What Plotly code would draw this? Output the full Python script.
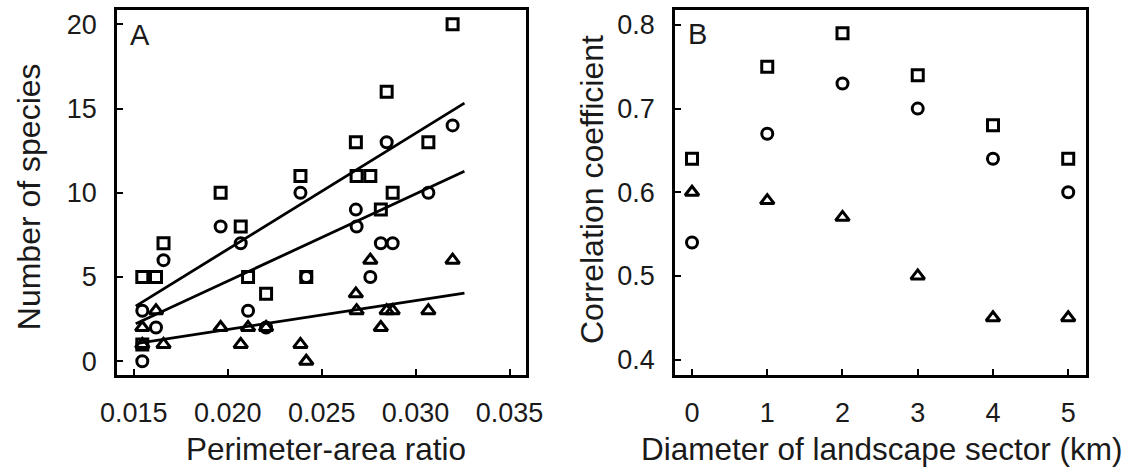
import numpy as np
import plotly.graph_objects as go

# ---------------- Panel A data ----------------
pa_ratio_sq = [0.01545, 0.01545, 0.01618, 0.01658, 0.01962, 0.02069, 0.02108, 0.02204, 0.02387,
               0.02418, 0.02682, 0.02686, 0.02759, 0.02815, 0.02846, 0.02878, 0.03068, 0.03197]
species_sq = [5, 1, 5, 7, 10, 8, 5, 4, 11, 5, 13, 11, 11, 9, 16, 10, 13, 20]

pa_ratio_ci = [0.01545, 0.01545, 0.01618, 0.01658, 0.01962, 0.02069, 0.02108, 0.02204, 0.02387,
               0.02418, 0.02682, 0.02686, 0.02759, 0.02815, 0.02846, 0.02878, 0.03068, 0.03197]
species_ci = [3, 0, 2, 6, 8, 7, 3, 2, 10, 5, 9, 8, 5, 7, 13, 7, 10, 14]

pa_ratio_tr = [0.01545, 0.01545, 0.01618, 0.01658, 0.01962, 0.02069, 0.02108, 0.02204, 0.02387,
               0.02418, 0.02682, 0.02686, 0.02759, 0.02815, 0.02846, 0.02878, 0.03068, 0.03197]
species_tr = [2, 1, 3, 1, 2, 1, 2, 2, 1, 0, 4, 3, 6, 2, 3, 3, 3, 6]

fit_x_range = [0.0151, 0.0326]

xticks_a = [0.015, 0.020, 0.025, 0.030, 0.035]
yticks_a = [0, 5, 10, 15, 20]

# ---------------- Panel B data ----------------
diameter_km = [0, 1, 2, 3, 4, 5]
corr_sq = [0.64, 0.75, 0.79, 0.74, 0.68, 0.64]
corr_ci = [0.54, 0.67, 0.73, 0.70, 0.64, 0.60]
corr_tr = [0.60, 0.59, 0.57, 0.50, 0.45, 0.45]
yticks_b = [0.4, 0.5, 0.6, 0.7, 0.8]

W, H = 1145, 472
FONT = "Liberation Sans, Arial, sans-serif"
TICK_SIZE = 27
TITLE_SIZE = 32
LW = 2.5
TXT = "#1a1a1a"

def px(x):
    return x / W

def py(y):
    return 1 - y / H

fig = go.Figure()

marker_common = dict(size=11, color="black", line=dict(color="black", width=3))

def add_points(x, y, symbol, xa, ya, size=11):
    m = dict(marker_common)
    m["size"] = size
    fig.add_trace(go.Scatter(x=x, y=y, mode="markers", xaxis=xa, yaxis=ya,
                             marker=dict(symbol=symbol, **m),
                             showlegend=False, hoverinfo="skip"))

# regression lines fitted to the data of each group
for xs, ys in [(pa_ratio_sq, species_sq), (pa_ratio_ci, species_ci), (pa_ratio_tr, species_tr)]:
    slope, intercept = np.polyfit(xs, ys, 1)
    lx = np.array(fit_x_range)
    fig.add_trace(go.Scatter(x=lx, y=slope * lx + intercept, mode="lines", xaxis="x", yaxis="y",
                             line=dict(color="black", width=2.8), showlegend=False, hoverinfo="skip"))

add_points(pa_ratio_sq, species_sq, "square-open", "x", "y")
add_points(pa_ratio_ci, species_ci, "circle-open", "x", "y")
add_points(pa_ratio_tr, species_tr, "triangle-up-open", "x", "y", size=12)

add_points(diameter_km, corr_sq, "square-open", "x2", "y2")
add_points(diameter_km, corr_ci, "circle-open", "x2", "y2")
add_points(diameter_km, corr_tr, "triangle-up-open", "x2", "y2", size=12)

axis_common = dict(showline=True, linecolor="black", linewidth=LW, mirror=True,
                   ticks="inside", ticklen=6, tickwidth=1.8, tickcolor="black",
                   showgrid=False, zeroline=False,
                   tickfont=dict(family=FONT, size=TICK_SIZE, color=TXT))

ytop, ybot = 10, 376
fig.update_layout(
    width=W, height=H,
    margin=dict(l=0, r=0, t=0, b=0),
    paper_bgcolor="white", plot_bgcolor="white",
    xaxis=dict(domain=[px(103), px(525)], range=[0.0141, 0.0359], tickvals=xticks_a,
               ticktext=[f"{v:.3f}" for v in xticks_a], anchor="y", ticklabelstandoff=12, **axis_common),
    yaxis=dict(domain=[py(ybot), py(ytop)], range=[-0.83, 20.85], tickvals=yticks_a,
               anchor="x", ticklabelstandoff=12, **axis_common),
    xaxis2=dict(domain=[px(678), px(1102)], range=[-0.228, 5.24], tickvals=diameter_km,
                anchor="y2", ticklabelstandoff=12, **axis_common),
    yaxis2=dict(domain=[py(ybot), py(ytop)], range=[0.3813, 0.8179], tickvals=yticks_b,
                ticktext=[f"{v:.1f}" for v in yticks_b], anchor="x2", ticklabelstandoff=12, **axis_common),
)

ann = [
    dict(text="Number of species", x=px(12), y=py(197), textangle=-90, size=TITLE_SIZE),
    dict(text="Correlation coefficient", x=px(592), y=py(190), textangle=-90, size=TITLE_SIZE),
    dict(text="Perimeter-area ratio", x=px(318), y=py(450), size=31.5),
    dict(text="Diameter of landscape sector (km)", x=px(891), y=py(450), size=31.5),
]
for a in ann:
    size = a.pop("size")
    fig.add_annotation(xref="paper", yref="paper", showarrow=False, xanchor="center", yanchor="middle",
                       font=dict(family=FONT, size=size, color=TXT), **a)

for lab, x, y in [("A", 127, 35), ("B", 701, 34)]:
    fig.add_annotation(xref="paper", yref="paper", showarrow=False, text=lab, x=px(x), y=py(y),
                       xanchor="center", yanchor="middle",
                       font=dict(family=FONT, size=29, color=TXT))

fig.write_html("out.html")
